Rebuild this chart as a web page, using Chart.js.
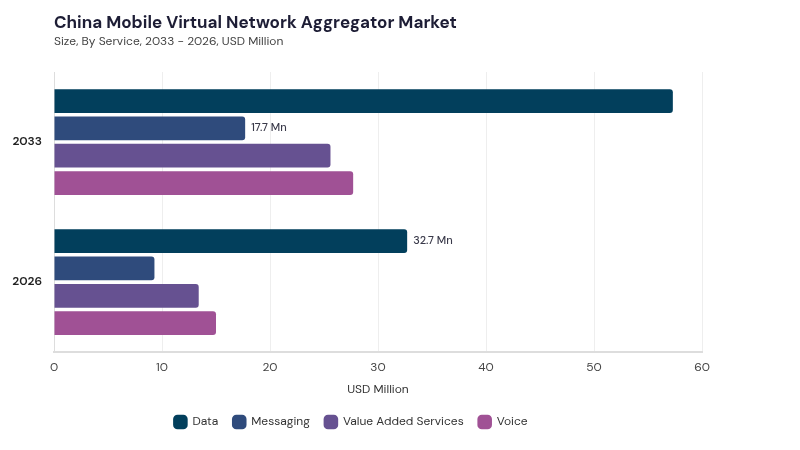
<!DOCTYPE html>
<html>
<head>
<meta charset="utf-8">
<script src="https://cdn.jsdelivr.net/npm/chart.js@4"></script>
<style>
  html, body { margin: 0; padding: 0; background: #fff; }
  #wrap { width: 800px; height: 450px; position: relative; font-family: 'DM Sans', Inter, 'Noto Sans', sans-serif; }
  #titulo { position: absolute; left: 54px; top: 11px; font-size: 17px; font-weight: 700; color: #1d1d35; }
  #subtitulo { position: absolute; left: 54px; top: 33px; font-size: 12px; color: #444; }
</style>
</head>
<body>
<div id="wrap">
  <div id="titulo">China Mobile Virtual Network Aggregator Market</div>
  <div id="subtitulo">Size, By Service, 2033 - 2026, USD Million</div>
  <canvas id="grafico"></canvas>
</div>
<script>
const anos = ["2033", "2026"];
const data = [57.3, 32.7];
const messaging = [17.7, 9.3];
const valueAdded = [25.6, 13.4];
const voice = [27.7, 15.0];
const rotulos = [
  { serie: 1, ano: 0, texto: "17.7 Mn" },
  { serie: 0, ano: 1, texto: "32.7 Mn" }
];

const fonte = "'DM Sans', Inter, 'Noto Sans', sans-serif";

/* rotulos no fim das barras */
const rotuloPlugin = {
  id: "rotulos",
  afterDatasetsDraw(chart) {
    const ctx = chart.ctx;
    ctx.save();
    ctx.font = "500 11px " + fonte;
    ctx.fillStyle = "#3a3a4a";
    ctx.textBaseline = "middle";
    rotulos.forEach(r => {
      const bar = chart.getDatasetMeta(r.serie).data[r.ano];
      ctx.fillText(r.texto, bar.x + 6, bar.y);
    });
    ctx.restore();
  }
};

new Chart(document.getElementById("grafico"), {
  type: "bar",
  data: {
    labels: anos,
    datasets: [
      { label: "Data", data: data, backgroundColor: "#023f5c" },
      { label: "Messaging", data: messaging, backgroundColor: "#2f4b7c" },
      { label: "Value Added Services", data: valueAdded, backgroundColor: "#665191" },
      { label: "Voice", data: voice, backgroundColor: "#a05195" }
    ]
  },
  options: {
    indexAxis: "y",
    responsive: true,
    maintainAspectRatio: false,
    animation: false,
    datasets: {
      bar: { barPercentage: 0.87, categoryPercentage: 0.78, borderRadius: 3, borderSkipped: "start" }
    },
    layout: { padding: { left: 0, right: 98, top: 72, bottom: 12 } },
    scales: {
      x: {
        min: 0,
        max: 60,
        ticks: { stepSize: 10, color: "#444", font: { family: fonte, size: 12 }, padding: 8 },
        grid: { color: "#eeeeee", drawTicks: false },
        border: { color: "#dddddd", width: 2 },
        title: { display: true, text: "USD Million", color: "#333", font: { family: fonte, size: 12 }, padding: { top: 0 } }
      },
      y: {
        ticks: { color: "#222", font: { family: fonte, size: 12, weight: "600" }, padding: 12 },
        grid: { display: false, drawTicks: false },
        border: { color: "#dddddd", width: 1 },
        afterFit(scale) { scale.width = 54; }
      }
    },
    plugins: {
      legend: {
        position: "bottom",
        labels: {
          usePointStyle: true,
          pointStyle: "rectRounded",
          boxWidth: 12,
          boxHeight: 12,
          color: "#333",
          font: { family: fonte, size: 12 },
          padding: 15
        }
      },
      tooltip: { enabled: false }
    }
  },
  plugins: [rotuloPlugin]
});
</script>
</body>
</html>
